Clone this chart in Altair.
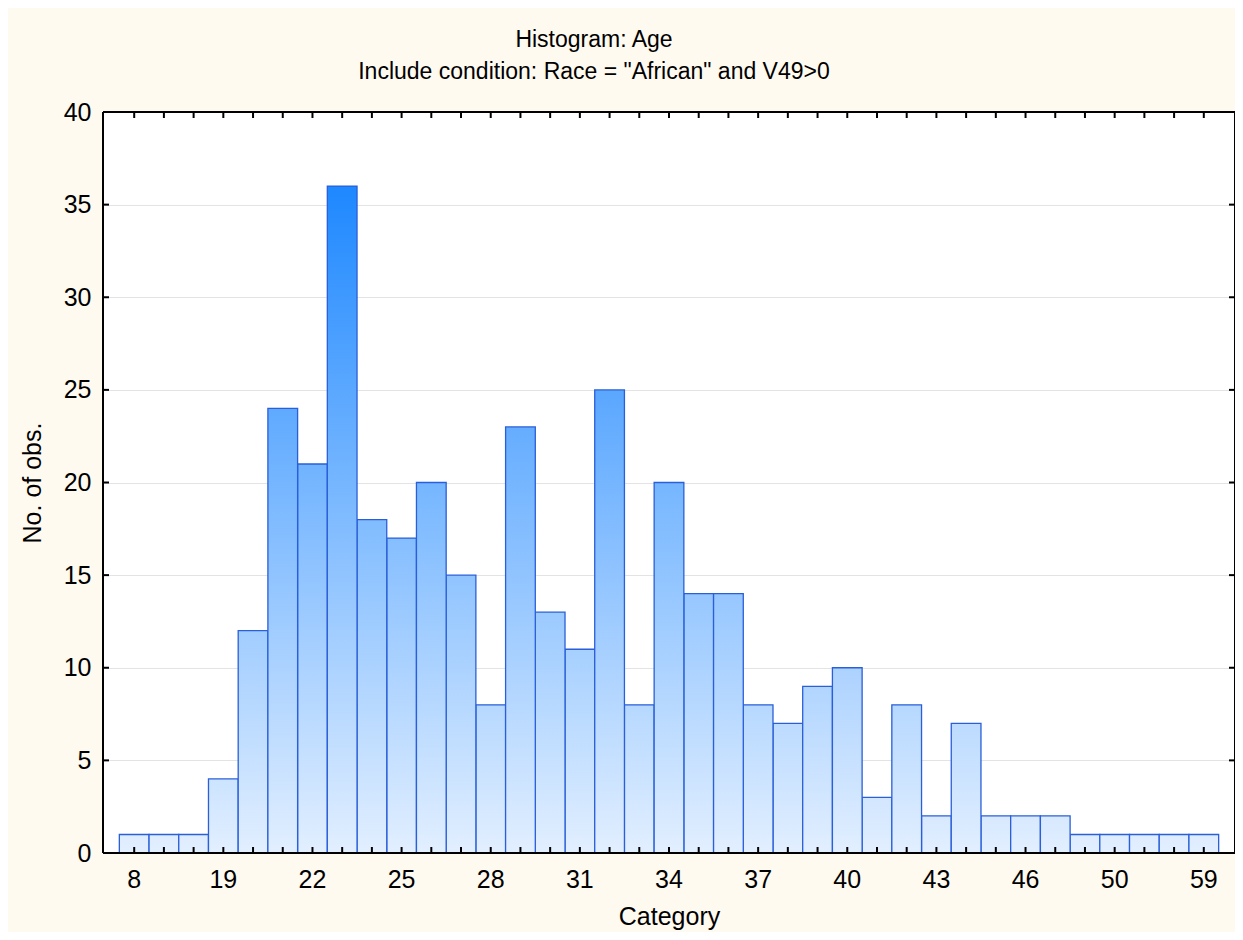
import altair as alt
import pandas as pd

categories = ["8", "16", "18"] + [str(a) for a in range(19, 49)] + ["50", "52", "55", "59"]
counts = [1, 1, 1, 4, 12, 24, 21, 36, 18, 17, 20, 15, 8, 23, 13, 11, 25, 8, 20, 14,
          14, 8, 7, 9, 10, 3, 8, 2, 7, 2, 2, 2, 1, 1, 1, 1, 1]
tick_labels = ["8", "19", "22", "25", "28", "31", "34", "37", "40", "43", "46", "50", "59"]
y_ticks = [0, 5, 10, 15, 20, 25, 30, 35, 40]

W, H = 1132, 741
FONT = "Liberation Sans"

df = pd.DataFrame({"cat": categories, "n": counts})
ydf = pd.DataFrame({"n": y_ticks})
one = pd.DataFrame({"a": [0]})

bottom_rgb = (226, 239, 255)
top_rgb = (30, 136, 255)


def mix(t):
    c = [round(b + (tp - b) * t) for b, tp in zip(bottom_rgb, top_rgb)]
    return "#%02x%02x%02x" % tuple(c)


X = alt.X("cat:O", scale=alt.Scale(domain=categories, paddingInner=0, paddingOuter=0.55),
          axis=alt.Axis(values=tick_labels, labelAngle=0, ticks=False, domain=False, grid=False,
                        labelFontSize=25, labelPadding=14, title="Category", titleFontSize=25,
                        titleY=63, titleBaseline="middle"))
Y = alt.Y("n:Q", scale=alt.Scale(domain=[0, 40], nice=False),
          axis=alt.Axis(values=y_ticks, ticks=False, domain=False, grid=True, gridColor="#e3e3e3",
                        labelFontSize=25, labelPadding=12, title="No. of obs.", titleFontSize=25,
                        titleX=-71, titleBaseline="middle"))

base = alt.Chart(df).encode(x=X, y=Y)
vmax = max(counts)
layers = []
for v in sorted(set(counts)):
    grad = alt.LinearGradient(
        gradient="linear",
        stops=[alt.GradientStop(color=mix(0), offset=0), alt.GradientStop(color=mix(v / vmax), offset=1)],
        x1=0, x2=0, y1=1, y2=0)
    layers.append(base.transform_filter(alt.datum.n == v)
                  .mark_bar(color=grad, stroke="#2a5fd9", strokeWidth=1.3))

TL = 6
tick_style = dict(color="black", strokeWidth=2)
layers.append(alt.Chart(df).mark_rule(**tick_style).encode(x=X, y=alt.value(H), y2=alt.value(H - TL)))
layers.append(alt.Chart(df).mark_rule(**tick_style).encode(x=X, y=alt.value(0), y2=alt.value(TL)))
layers.append(alt.Chart(ydf).mark_rule(**tick_style).encode(y=Y, x=alt.value(0), x2=alt.value(TL)))
layers.append(alt.Chart(ydf).mark_rule(**tick_style).encode(y=Y, x=alt.value(W - TL), x2=alt.value(W)))

frame = dict(color="black", strokeWidth=2)
layers.append(alt.Chart(one).mark_rule(**frame).encode(x=alt.value(0), x2=alt.value(W), y=alt.value(H)))
layers.append(alt.Chart(one).mark_rule(**frame).encode(x=alt.value(0), x2=alt.value(W), y=alt.value(0)))
layers.append(alt.Chart(one).mark_rule(**frame).encode(x=alt.value(0), y=alt.value(0), y2=alt.value(H)))
layers.append(alt.Chart(one).mark_rule(**frame).encode(x=alt.value(W), y=alt.value(0), y2=alt.value(H)))

chart = alt.layer(*layers).properties(
    width=W, height=H,
    padding={"left": 95, "top": 104, "right": 0, "bottom": 79},
    autosize=alt.AutoSizeParams(type="none"),
    background="#FFFAF0",
    title=alt.Title(text="Histogram: Age", subtitle='Include condition: Race = "African" and V49>0',
                    fontSize=23, subtitleFontSize=23, font=FONT, subtitleFont=FONT,
                    fontWeight="normal", color="black", subtitleColor="black",
                    anchor="middle", dx=-75, offset=16, subtitlePadding=9),
).configure_view(fill="white", stroke=None).configure_axis(
    labelFont=FONT, titleFont=FONT, labelColor="black", titleColor="black", titleFontWeight="normal"
)

chart.save("out.html", embed_options={"renderer": "svg", "actions": False})
